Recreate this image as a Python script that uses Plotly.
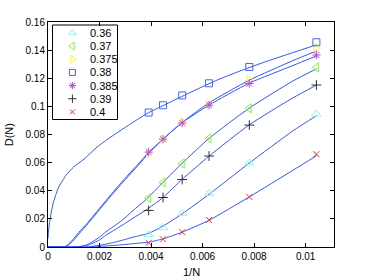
import plotly.graph_objects as go

# ---- data ----
N_values = [256, 224, 192, 160, 128, 96]
labels = ["0.36", "0.37", "0.375", "0.38", "0.385", "0.39", "0.4"]

d_036 = [0.0088, 0.0138, 0.0238, 0.0380, 0.0598, 0.0945]
d_037 = [0.0348, 0.0459, 0.0594, 0.0772, 0.0986, 0.1278]
d_0375 = [0.0665, 0.0765, 0.0890, 0.1020, 0.1190, 0.1413]
d_038 = [0.0956, 0.1008, 0.1078, 0.1164, 0.1280, 0.1456]
d_0385 = [0.0675, 0.0767, 0.0881, 0.1008, 0.1162, 0.1365]
d_039 = [0.0260, 0.0352, 0.0480, 0.0647, 0.0867, 0.1152]
d_04 = [0.0030, 0.0055, 0.0105, 0.0192, 0.0356, 0.0660]

# fitted curves
fit_038_x = [0, 0.00003, 0.0001, 0.0002, 0.0004, 0.0007, 0.001, 0.0014, 0.0019, 0.0025,
             0.0032, 0.0039, 0.0046, 0.0055, 0.0065, 0.0075, 0.0085, 0.0095, 0.01043]
fit_038_y = [0.006, 0.013, 0.022, 0.031, 0.042, 0.051, 0.057, 0.0625, 0.071, 0.079,
             0.0875, 0.0955, 0.1017, 0.1097, 0.1182, 0.1255, 0.1321, 0.1382, 0.1438]

fit_0385_x = [0, 0.0004, 0.00062, 0.0008, 0.001, 0.0012, 0.0015, 0.002, 0.0025, 0.003,
              0.0035, 0.0039, 0.00446, 0.0052, 0.00625, 0.0078, 0.0095, 0.01043]
fit_0385_y = [0, 0, 0, 0.002, 0.006, 0.0105, 0.0165, 0.0275, 0.0385, 0.049,
              0.059, 0.0672, 0.0767, 0.0883, 0.1009, 0.1164, 0.129, 0.136]

fit_0375_x = [0, 0.0004, 0.00066, 0.0008, 0.001, 0.0012, 0.0015, 0.002, 0.0025, 0.003,
              0.0035, 0.0039, 0.00446, 0.0052, 0.00625, 0.0078, 0.0095, 0.01043]
fit_0375_y = [0, 0, 0, 0.0015, 0.005, 0.0093, 0.0155, 0.0265, 0.0375, 0.048,
              0.058, 0.0665, 0.0765, 0.0885, 0.1025, 0.1185, 0.1325, 0.1395]

fit_037_x = [0, 0.0006, 0.0011, 0.0015, 0.002, 0.00224, 0.00288, 0.0033, 0.00378,
             0.00446, 0.0052, 0.00625, 0.0078, 0.0095, 0.01043]
fit_037_y = [0, 0, 0, 0.0015, 0.007, 0.0107, 0.019, 0.026, 0.0333,
             0.0459, 0.0594, 0.0772, 0.0986, 0.118, 0.1268]

fit_039_x = [0, 0.0006, 0.0011, 0.0015, 0.002, 0.00224, 0.00288, 0.0033, 0.00378,
             0.00446, 0.0052, 0.00625, 0.0078, 0.0095, 0.01043]
fit_039_y = [0, 0, 0, 0.001, 0.005, 0.0083, 0.0155, 0.0205, 0.026,
             0.0352, 0.048, 0.0646, 0.0867, 0.106, 0.1152]

fit_036_x = [0, 0.0008, 0.0015, 0.002, 0.0025, 0.00288, 0.0033, 0.0039, 0.00446,
             0.0052, 0.00625, 0.0078, 0.0095, 0.01043]
fit_036_y = [0, 0, 0, 0.0012, 0.003, 0.0048, 0.007, 0.0097, 0.0148,
             0.0235, 0.0375, 0.0595, 0.0825, 0.0935]

fit_04_x = [0, 0.001, 0.0015, 0.002, 0.00282, 0.0035, 0.0039, 0.00446, 0.0052,
            0.00625, 0.0078, 0.0095, 0.01043]
fit_04_y = [0, 0, 0, 0.0004, 0.0015, 0.0027, 0.0034, 0.0058, 0.0105,
            0.019, 0.0355, 0.0545, 0.065]

x_ticks = [0, 0.002, 0.004, 0.006, 0.008, 0.01]
x_tick_text = ["0", "0.002", "0.004", "0.006", "0.008", "0.01"]
y_ticks = [0, 0.02, 0.04, 0.06, 0.08, 0.10, 0.12, 0.14, 0.16]
y_tick_text = ["0", "0.02", "0.04", "0.06", "0.08", "0.1", "0.12", "0.14", "0.16"]

# ---- styling ----
inv_n = [1.0 / n for n in N_values]
series = [d_036, d_037, d_0375, d_038, d_0385, d_039, d_04]
symbols = ["triangle-up-open", "triangle-left-open", "triangle-right-open", "square-open",
           "asterisk-open", "cross-thin-open", "x-thin-open"]
colors = ["#80ffe0", "#80ff20", "#ffff20", "#4466ff", "#c040ff", "#303030", "#ff3030"]
sizes = [8, 8, 8, 7, 7, 7, 6]
fits = [(fit_036_x, fit_036_y), (fit_037_x, fit_037_y), (fit_0375_x, fit_0375_y),
        (fit_038_x, fit_038_y), (fit_0385_x, fit_0385_y), (fit_039_x, fit_039_y),
        (fit_04_x, fit_04_y)]
line_color = "#3355ff"
font = "Liberation Sans, Arial, Helvetica, sans-serif"

fig = go.Figure()
for fx, fy in fits:
    fig.add_trace(go.Scatter(x=fx, y=fy, mode="lines", showlegend=False, hoverinfo="skip",
                             line=dict(color=line_color, width=1, shape="spline", smoothing=0.6)))
for lab, ys, sym, col, sz in zip(labels, series, symbols, colors, sizes):
    fig.add_trace(go.Scatter(x=inv_n, y=ys, mode="markers", name=lab, showlegend=False,
                             marker=dict(symbol=sym, size=sz, color=col,
                                         line=dict(color=col, width=1))))

# custom legend drawn on an overlay axis (0..1)
leg_x_marker = 0.0854
leg_x_text = 0.141
leg_y0 = 0.951
leg_step = 0.0584
for i, (lab, sym, col, sz) in enumerate(zip(labels, symbols, colors, sizes)):
    yy = leg_y0 - i * leg_step
    fig.add_trace(go.Scatter(x=[leg_x_marker], y=[yy], xaxis="x2", yaxis="y2", mode="markers",
                             showlegend=False, hoverinfo="skip",
                             marker=dict(symbol=sym, size=sz - 1, color=col,
                                         line=dict(color=col, width=1))))
    fig.add_annotation(x=leg_x_text, y=yy, xref="x2", yref="y2", text=lab, showarrow=False,
                       xanchor="left", yanchor="middle", font=dict(size=11, color="black", family=font))

fig.add_shape(type="rect", xref="x2", yref="y2", x0=0.0157, x1=0.243, y0=0.5666, y1=0.9866,
              line=dict(color="black", width=1), fillcolor="rgba(255,255,255,0)", layer="above")

fig.add_annotation(x=0.5, y=-0.077, xref="paper", yref="paper", text="1/N", showarrow=False,
                   xanchor="center", yanchor="top", font=dict(size=11, color="black", family=font))
fig.add_annotation(x=-0.137, y=0.5, xref="paper", yref="paper", text="D(N)", showarrow=False,
                   textangle=-90, xanchor="center", yanchor="middle",
                   font=dict(size=11, color="black", family=font))

axis_common = dict(showline=True, linecolor="black", linewidth=1, mirror="ticks", ticks="inside",
                   ticklen=4, tickcolor="black", showgrid=False, zeroline=False,
                   tickfont=dict(size=10, color="black", family=font))

fig.update_layout(
    width=369, height=278,
    margin=dict(l=48, r=35, t=22, b=31, pad=0),
    paper_bgcolor="white", plot_bgcolor="white",
    showlegend=False,
    xaxis=dict(range=[0, 0.0111], tickvals=x_ticks, ticktext=x_tick_text, **axis_common),
    yaxis=dict(range=[0, 0.16], tickvals=y_ticks, ticktext=y_tick_text, **axis_common),
    xaxis2=dict(range=[0, 1], overlaying="x", visible=False, fixedrange=True),
    yaxis2=dict(range=[0, 1], overlaying="y", visible=False, fixedrange=True),
)

# remove the browser's default 8px body margin so the figure sits at the window origin
fig.write_html("out.html", config={"displayModeBar": False},
               post_script="document.body.style.margin='0';document.body.style.overflow='hidden';")
